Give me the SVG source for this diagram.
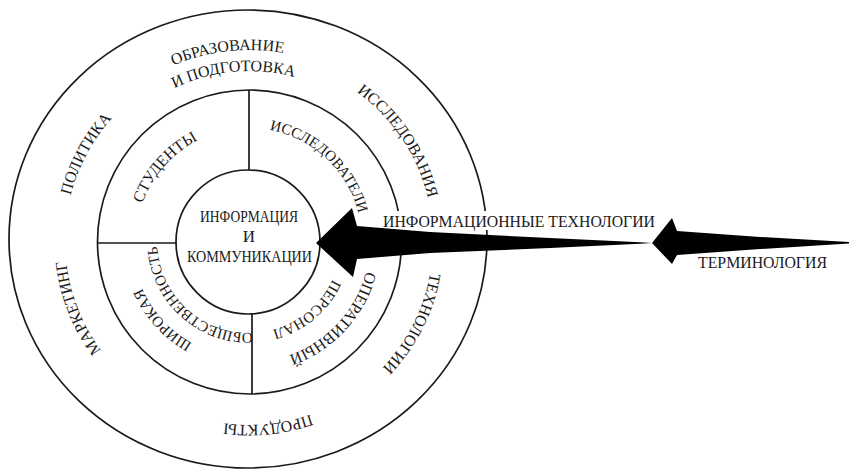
<svg xmlns="http://www.w3.org/2000/svg" xmlns:xlink="http://www.w3.org/1999/xlink" width="849" height="470" viewBox="0 0 849 470">
<style>
.ln{fill:none;stroke:#1a1a1a;stroke-width:1.7}
.t{font-family:"Liberation Serif","Times New Roman",serif;fill:#1a1a1a;font-size:16px}
.s{font-size:15px}
.m{font-size:16px}
.l{font-size:17px}
.arr{fill:#000;stroke:none}
</style>
<defs>
<path id="r184" d="M 433,241 A 184 184 0 1 1 65,241 A 184 184 0 1 1 433,241"/>
<path id="r191" d="M 440,241 A 191 191 0 1 1 58,241 A 191 191 0 1 1 440,241"/>
<path id="r170" d="M 419,241 A 170 170 0 1 1 79,241 A 170 170 0 1 1 419,241"/>
<path id="r113" d="M 362,241 A 113 113 0 1 1 136,241 A 113 113 0 1 1 362,241"/>
<path id="r121" d="M 370,241 A 121 121 0 1 1 128,241 A 121 121 0 1 1 370,241"/>
<path id="r117" d="M 366,241 A 117 117 0 1 1 132,241 A 117 117 0 1 1 366,241"/>
<path id="r92" d="M 341,241 A 92 92 0 1 1 157,241 A 92 92 0 1 1 341,241"/>
</defs>
<rect width="849" height="470" fill="#fff"/>
<g id="rings">
<ellipse class="ln" cx="248" cy="239" rx="239" ry="229"/>
<circle class="ln" cx="249.5" cy="242" r="152"/>
<line class="ln" x1="249" y1="90" x2="249" y2="170"/>
<line class="ln" x1="252" y1="314" x2="252" y2="394"/>
<line class="ln" x1="97" y1="243" x2="177" y2="243"/>
</g>
<g id="center">
<circle class="ln" cx="248" cy="242" r="72"/>
<text class="t l" text-anchor="middle" x="249" y="222" textLength="98" lengthAdjust="spacingAndGlyphs">ИНФОРМАЦИЯ</text>
<text class="t l" text-anchor="middle" x="249" y="242">И</text>
<text class="t l" text-anchor="middle" x="249.5" y="262" textLength="125" lengthAdjust="spacingAndGlyphs">КОММУНИКАЦИИ</text>
</g>
<g id="outer-labels">
<text class="t m" text-anchor="middle"><textPath xlink:href="#r191" startOffset="878">ОБРАЗОВАНИЕ</textPath></text>
<text class="t m" text-anchor="middle"><textPath xlink:href="#r170" startOffset="785">И ПОДГОТОВКА</textPath></text>
<text class="t" text-anchor="middle"><textPath xlink:href="#r184" startOffset="668">ПОЛИТИКА</textPath></text>
<text class="t" text-anchor="middle"><textPath xlink:href="#r184" startOffset="1047">ИССЛЕДОВАНИЯ</textPath></text>
<text class="t" text-anchor="middle"><textPath xlink:href="#r184" startOffset="86">ТЕХНОЛОГИИ</textPath></text>
<text class="t" text-anchor="middle"><textPath xlink:href="#r184" startOffset="270">ПРОДУКТЫ</textPath></text>
<text class="t" text-anchor="middle"><textPath xlink:href="#r184" startOffset="509">МАРКЕТИНГ</textPath></text>
</g>
<g id="inner-labels">
<text class="t" text-anchor="middle"><textPath xlink:href="#r113" startOffset="436">СТУДЕНТЫ</textPath></text>
<text class="t s" text-anchor="middle"><textPath xlink:href="#r113" startOffset="617">ИССЛЕДОВАТЕЛИ</textPath></text>
<text class="t m" text-anchor="middle"><textPath xlink:href="#r121" startOffset="90">ОПЕРАТИВНЫЙ</textPath></text>
<text class="t s" text-anchor="middle"><textPath xlink:href="#r92" startOffset="80">ПЕРСОНАЛ</textPath></text>
<text class="t s" text-anchor="middle"><textPath xlink:href="#r117" startOffset="281">ШИРОКАЯ</textPath></text>
<text class="t s" text-anchor="middle"><textPath xlink:href="#r92" startOffset="212">ОБЩЕСТВЕННОСТЬ</textPath></text>
</g>
<g id="connectors">
<rect x="380" y="211" width="278" height="19" fill="#fff"/>
<polygon class="arr" points="316,243 352,208 357,226 430,232 550,238 640,242.3 652,243 640,243.7 550,248 430,253 357,259 353,277"/>
<polygon class="arr" points="652,243 672,218 677,231 760,237 849,242 849,243.5 760,249 677,255 672,264"/>
</g>
<g id="arrow-labels">
<text class="t l" x="383" y="227" textLength="272" lengthAdjust="spacingAndGlyphs">ИНФОРМАЦИОННЫЕ ТЕХНОЛОГИИ</text>
<text class="t m" x="698" y="268" textLength="129" lengthAdjust="spacingAndGlyphs">ТЕРМИНОЛОГИЯ</text>
</g>
</svg>
